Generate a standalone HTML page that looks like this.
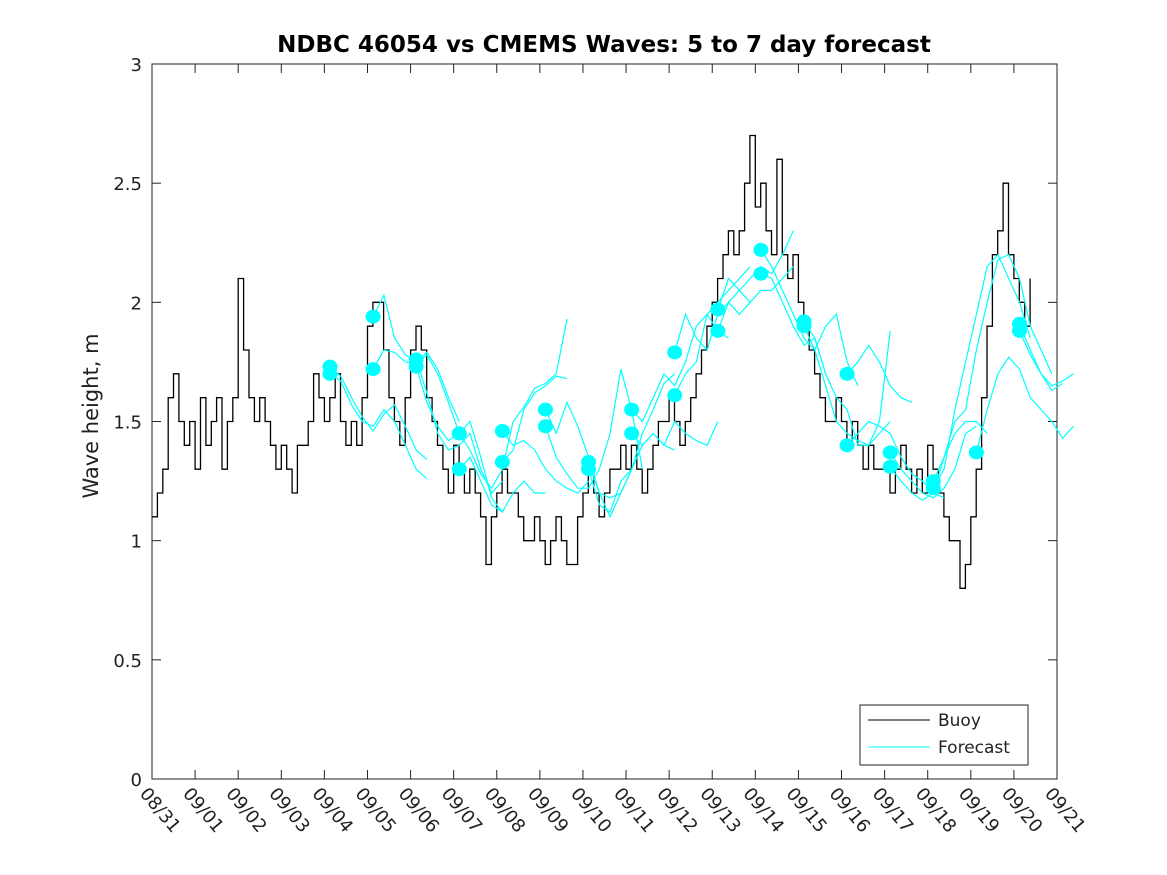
<!DOCTYPE html>
<html><head><meta charset="utf-8"><style>
html,body{margin:0;padding:0;background:#fff;}
svg{display:block;font-family:"DejaVu Sans","Liberation Sans",sans-serif;}
</style></head><body>
<svg id="chart" width="1167" height="875" viewBox="0 0 1167 875">
<rect x="0" y="0" width="1167" height="875" fill="#fff"/>
<text x="604" y="52" text-anchor="middle" font-size="23" font-weight="bold" fill="#000">NDBC 46054 vs CMEMS Waves: 5 to 7 day forecast</text>
<g id="plot"></g>
<text transform="translate(98,416) rotate(-90)" text-anchor="middle" font-size="21" fill="#222">Wave height, m</text>
<g>
<rect x="860" y="705" width="168" height="60" fill="#fff" stroke="#222" stroke-width="1"/>
<line x1="868" y1="720" x2="930" y2="720" stroke="#000" stroke-width="1"/>
<text x="938" y="726" font-size="17" fill="#222">Buoy</text>
<line x1="868" y1="747" x2="930" y2="747" stroke="#00ffff" stroke-width="1"/>
<text x="938" y="753" font-size="17" fill="#222">Forecast</text>
</g>
</svg>
<script>
const xTickLabels=["08/31","09/01","09/02","09/03","09/04","09/05","09/06","09/07","09/08","09/09","09/10","09/11","09/12","09/13","09/14","09/15","09/16","09/17","09/18","09/19","09/20","09/21"];
const yTicks=[0,0.5,1,1.5,2,2.5,3];
const yTickLabels=["0","0.5","1","1.5","2","2.5","3"];
// buoy: 3-hour steps from 08/31 00:00
const buoyValues=[1.1,1.2,1.3,1.6,1.7,1.5,1.4,1.5,
1.3,1.6,1.4,1.5,1.6,1.3,1.5,1.6,
2.1,1.8,1.6,1.5,1.6,1.5,1.4,1.3,
1.4,1.3,1.2,1.4,1.4,1.5,1.7,1.6,
1.5,1.6,1.7,1.5,1.4,1.5,1.4,1.6,
1.9,2.0,2.0,1.8,1.6,1.5,1.4,1.6,
1.8,1.9,1.8,1.6,1.5,1.4,1.3,1.2,
1.4,1.3,1.2,1.3,1.2,1.1,0.9,1.1,
1.2,1.3,1.2,1.2,1.1,1.0,1.0,1.1,
1.0,0.9,1.0,1.1,1.0,0.9,0.9,1.1,
1.2,1.3,1.2,1.1,1.2,1.3,1.3,1.4,
1.3,1.4,1.3,1.2,1.3,1.4,1.5,1.5,
1.6,1.5,1.4,1.5,1.6,1.7,1.8,1.9,
2.0,2.1,2.2,2.3,2.2,2.3,2.5,2.7,
2.4,2.5,2.3,2.2,2.6,2.2,2.1,2.2,
2.0,1.9,1.8,1.7,1.6,1.5,1.5,1.6,
1.5,1.4,1.5,1.4,1.3,1.4,1.3,1.3,
1.3,1.2,1.3,1.4,1.3,1.2,1.3,1.2,
1.4,1.3,1.2,1.1,1.0,1.0,0.8,0.9,
1.1,1.3,1.6,1.9,2.2,2.3,2.5,2.2,
2.1,2.0,1.9,2.1];
const buoyStepDays=0.125;
// forecasts: start day + values at 6-hour steps
const forecastStarts=[4.13,4.13,5.13,5.13,6.13,6.13,7.13,7.13,8.13,8.13,9.13,9.13,10.13,10.13,11.13,11.13,12.13,12.13,13.13,13.13,14.13,14.13,15.13,15.13,16.13,16.13,17.13,17.13,18.13,18.13,19.13,20.13,20.13];
const forecastValues=[
[1.73,1.69,1.6,1.52,1.46,1.53,1.57,1.48,1.38,1.34],
[1.70,1.67,1.57,1.5,1.48,1.55,1.5,1.4,1.3,1.26],
[1.94,2.03,1.85,1.78,1.75,1.79,1.72,1.6,1.5],
[1.72,1.80,1.79,1.75,1.74,1.78,1.70,1.58,1.45],
[1.76,1.62,1.45,1.38,1.4,1.45,1.3,1.2,1.25],
[1.73,1.58,1.48,1.42,1.45,1.5,1.35,1.18,1.12],
[1.45,1.38,1.28,1.22,1.3,1.5,1.56,1.64,1.66,1.7,1.93],
[1.30,1.35,1.25,1.15,1.12,1.2,1.25,1.2,1.2],
[1.46,1.4,1.42,1.38,1.3,1.25,1.22,1.2,1.25],
[1.33,1.38,1.55,1.62,1.65,1.69,1.68],
[1.55,1.45,1.58,1.48,1.35,1.2,1.18,1.2,1.3],
[1.48,1.35,1.28,1.22,1.22,1.3,1.45,1.72,1.55,1.3],
[1.33,1.2,1.1,1.2,1.3,1.4,1.45,1.4,1.38],
[1.30,1.15,1.12,1.25,1.3,1.45,1.55,1.66,1.7],
[1.55,1.5,1.6,1.7,1.65,1.75,1.9,1.95,1.88,1.85],
[1.45,1.4,1.45,1.4,1.5,1.45,1.42,1.4,1.5],
[1.79,1.95,1.85,1.8,1.95,2.0,2.05,2.0],
[1.61,1.7,1.75,1.95,2.0,2.05,2.1,2.15],
[1.97,2.1,2.05,2.1,2.15,2.12,2.2,2.3],
[1.88,2.0,1.95,2.0,2.05,2.05,2.1,2.15],
[2.22,2.15,2.05,1.95,1.85,1.8,1.9,1.95,1.75,1.65],
[2.12,2.1,2.0,1.9,1.82,1.85,1.7],
[1.92,1.85,1.7,1.6,1.55,1.4,1.4,1.45,1.5],
[1.90,1.8,1.65,1.5,1.45,1.42,1.4,1.5,1.88],
[1.70,1.75,1.82,1.75,1.65,1.6,1.58],
[1.40,1.45,1.5,1.48,1.45,1.35,1.28,1.25,1.2,1.18],
[1.37,1.3,1.25,1.2,1.18,1.22,1.3,1.45,1.48],
[1.31,1.25,1.2,1.17,1.2,1.35,1.45,1.5,1.5,1.45],
[1.25,1.35,1.5,1.55,1.8,2.0,2.18,2.2,2.1,1.9,1.8,1.7],
[1.22,1.3,1.55,1.75,1.95,2.15,2.2,2.1,2.0,1.85],
[1.37,1.55,1.7,1.77,1.72,1.6,1.55,1.5,1.43,1.48],
[1.91,1.8,1.7,1.65,1.67,1.7],
[1.88,1.78,1.7,1.63,1.66]];
const forecastStepDays=0.25;

const L=152,R=1057,T=64,B=779;
function xs(d){return L+(R-L)*d/21;}
function ys(v){return B-(B-T)*v/3;}
const NS="http://www.w3.org/2000/svg";
const g=document.getElementById('plot');
function mk(tag,attrs,parent){const e=document.createElementNS(NS,tag);for(const k in attrs)e.setAttribute(k,attrs[k]);(parent||g).appendChild(e);return e;}

const box=mk('rect',{x:L,y:T,width:R-L,height:B-T,fill:'none',stroke:'#222','stroke-width':1});



xTickLabels.forEach((lab,i)=>{
  const x=xs(i);
  mk('line',{x1:x,y1:B,x2:x,y2:B-9,stroke:'#222'});
  mk('line',{x1:x,y1:T,x2:x,y2:T+9,stroke:'#222'});
  const t=mk('text',{x:0,y:0,'font-size':18,fill:'#222',transform:`translate(${x-13},${B+15}) rotate(50)`});
  t.textContent=lab;
  
  
});
yTicks.forEach((v,i)=>{
  const y=ys(v);
  mk('line',{x1:L,y1:y,x2:L+9,y2:y,stroke:'#222'});
  mk('line',{x1:R,y1:y,x2:R-9,y2:y,stroke:'#222'});
  const t=mk('text',{x:L-10,y:y+7,'text-anchor':'end','font-size':18,fill:'#222'});
  t.textContent=yTickLabels[i];
  
  
});

// buoy stairs
let d='';
buoyValues.forEach((v,i)=>{
  const x=xs(i*buoyStepDays),y=ys(v);
  d+= (i===0?'M':'H')+x.toFixed(1)+(i===0?','+y.toFixed(1):'')+'V'+y.toFixed(1);
});
const bl=mk('path',{d:d,fill:'none',stroke:'#000','stroke-width':1.3});



forecastValues.forEach((vals,k)=>{
  const s=forecastStarts[k];
  const pts=vals.map((v,i)=>xs(s+i*forecastStepDays).toFixed(1)+','+ys(v).toFixed(1)).join(' ');
  const pl=mk('polyline',{points:pts,fill:'none',stroke:'#00ffff','stroke-width':1.2});
  
  
  const c=mk('ellipse',{cx:xs(s),cy:ys(vals[0]),rx:7.5,ry:7,fill:'#00ffff'});
  
  
});
</script>
</body></html>
